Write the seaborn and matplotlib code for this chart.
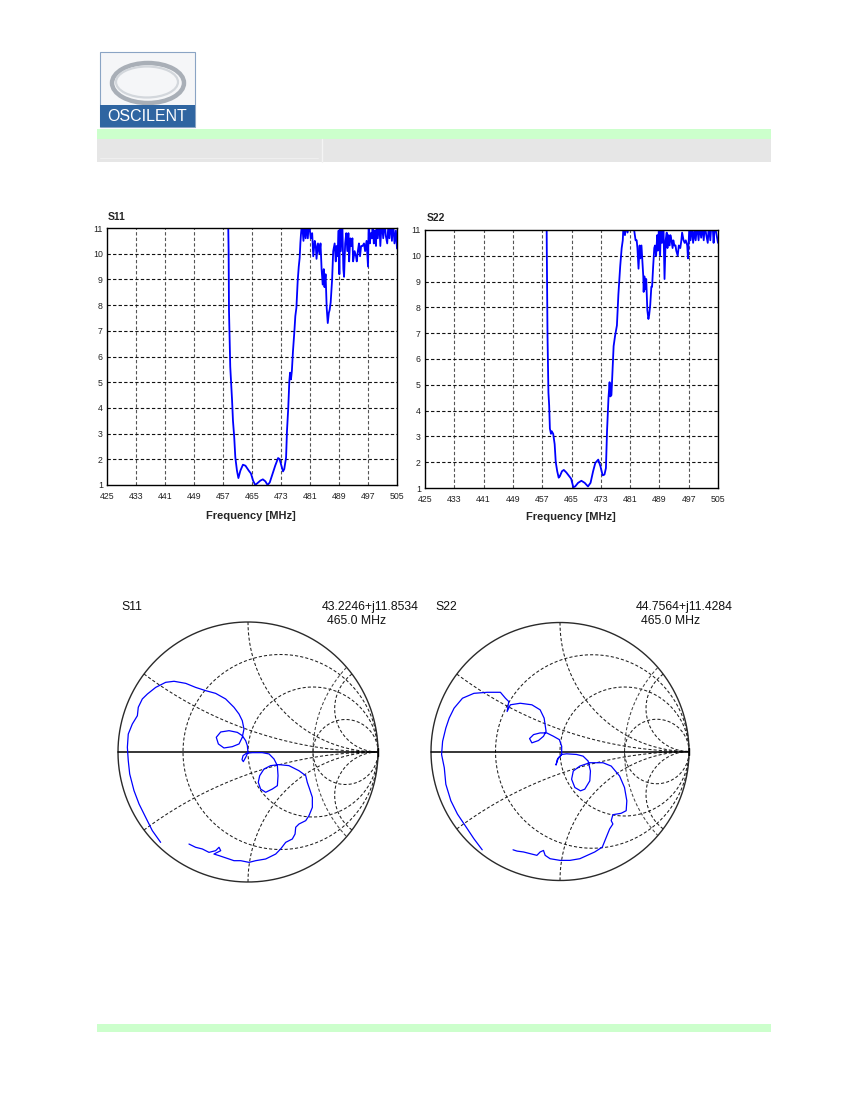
import numpy as np
import pandas as pd
import matplotlib
matplotlib.use("Agg")
import matplotlib.pyplot as plt
import seaborn as sns
from matplotlib.patches import Rectangle, Ellipse

sns.set_theme(style="white")
plt.rcParams['font.family'] = ['Liberation Sans', 'DejaVu Sans']

# ---------------- data ----------------
freq_ticks = [425, 433, 441, 449, 457, 465, 473, 481, 489, 497, 505]
vswr_ticks = [1, 2, 3, 4, 5, 6, 7, 8, 9, 10, 11]

s11_freq = [458.4, 458.55, 458.65, 459.0, 459.5, 459.75, 460.1, 460.4, 460.85, 461.25,
            461.8, 462.5, 463.2, 464.1, 464.7, 465.3, 465.9, 466.4, 467.3, 468.0,
            468.7, 469.3, 469.9, 470.5, 471.4, 472.2, 472.6, 473.1, 473.55, 473.9,
            474.4, 474.65, 475.0, 475.3, 475.5, 475.75, 476.0, 476.3, 476.7, 476.95,
            477.25, 477.6, 477.9, 478.15, 478.35, 478.5, 478.8,
            479.2, 479.5, 479.8, 480.1, 480.4, 480.7, 481.2, 481.6, 481.9, 482.3,
            482.6, 482.8, 483.2, 483.6, 483.9, 484.2, 484.5, 484.8, 485.0, 485.3,
            485.6, 485.9, 486.2, 486.4, 486.7, 487.1, 487.4, 487.8, 488.1, 488.3,
            488.6, 488.9, 489.1, 489.3, 489.5, 489.9, 490.2, 490.4, 490.7, 491.0,
            491.3, 491.6, 491.8, 492.1, 492.4, 492.7, 492.9, 493.3, 493.7, 493.9,
            494.2, 494.5, 494.8, 495.1, 495.5, 495.9, 496.2, 496.6, 497.0, 497.2,
            497.5, 497.8, 498.1, 498.3, 498.6, 498.9, 499.2, 499.4, 499.7, 500.1,
            500.4, 500.8, 501.2, 501.6, 501.9, 502.3, 502.7, 502.9, 503.2, 503.6,
            503.9, 504.3, 504.7, 505.0]
s11_vswr = [11.5, 10.1, 7.8, 5.6, 4.3, 3.5, 2.85, 2.07, 1.56, 1.27,
            1.56, 1.79, 1.75, 1.56, 1.45, 1.17, 1.0, 1.06, 1.17, 1.22,
            1.14, 1.0, 1.10, 1.36, 1.75, 2.05, 2.01, 1.75, 1.53, 1.62,
            2.07, 3.1, 4.0, 5.05, 5.37, 5.11, 5.44, 6.2, 7.0, 7.57,
            7.9, 8.93, 9.5, 9.84, 10.42, 10.74, 11.2,
            10.5, 11.3, 10.6, 11.3, 10.6, 11.3, 10.6, 10.8, 9.9, 10.5,
            10.3, 9.8, 10.4, 10.0, 10.4, 9.4, 8.8, 9.4, 8.7, 9.2,
            7.9, 7.3, 7.7, 7.8, 8.1, 9.0, 10.1, 10.4, 9.7, 10.3,
            9.9, 10.9, 9.2, 11.3, 10.1, 11.3, 9.4, 9.1, 10.4, 10.8,
            10.1, 10.8, 9.7, 10.6, 10.3, 10.6, 9.7, 10.1, 9.9, 9.7,
            10.1, 10.4, 9.9, 10.3, 10.3, 10.4, 10.1, 10.5, 9.5, 11.3,
            10.4, 10.8, 10.6, 11.3, 10.4, 10.9, 10.3, 11.3, 10.6, 11.3,
            10.3, 11.3, 10.6, 11.3, 10.7, 10.4, 11.3, 10.6, 11.3, 10.5,
            11.3, 10.4, 10.9, 10.2]

s22_freq = [458.2, 458.25, 458.45, 458.7, 458.9, 459.1, 459.4, 459.6, 460.0, 460.4,
            460.7, 461.1, 461.5, 461.8, 462.4, 462.9, 463.6, 464.4, 464.9, 465.5,
            466.0, 466.8, 467.7, 468.6, 469.5, 470.2, 470.9, 471.5, 472.3, 472.9,
            473.5, 474.0, 474.4, 474.7, 475.1, 475.4, 475.6, 475.9, 476.2, 476.5,
            476.9,
            477.4, 477.8, 478.1, 478.3, 478.7, 479.0, 479.2, 479.6, 479.9, 480.3,
            480.7, 481.2, 481.6, 482.1, 482.5, 482.8, 483.0, 483.3, 483.6, 483.8,
            484.1, 484.4, 484.6, 484.7, 484.9, 485.2, 485.4, 485.7, 486.0, 486.2,
            486.5, 486.8, 487.0, 487.3, 487.6, 487.8, 488.1, 488.4, 488.6, 488.9,
            489.2, 489.4, 489.7, 490.1, 490.4, 490.7, 491.0, 491.2, 491.5, 491.8,
            492.0, 492.3, 492.6, 492.8, 493.1, 493.4, 493.6, 494.0, 494.3, 494.7,
            495.0, 495.2, 495.6, 495.9, 496.2, 496.6, 496.8, 497.2, 497.5, 497.9,
            498.2, 498.6, 498.9, 499.3, 499.7, 500.0, 500.4, 500.7, 501.1, 501.4,
            501.8, 502.2, 502.5, 502.9, 503.2, 503.6, 503.8, 504.1, 504.5, 505.0]
s22_vswr = [11.5, 10.3, 6.9, 4.7, 4.2, 3.3, 3.1, 3.2, 3.1, 2.7,
            2.0, 1.65, 1.4, 1.45, 1.65, 1.7, 1.6, 1.45, 1.36, 1.03,
            1.06, 1.2, 1.28, 1.2, 1.06, 1.2, 1.65, 1.97, 2.1, 1.84,
            1.49, 1.52, 1.77, 3.2, 4.5, 5.1, 4.55, 4.6, 5.6, 6.5,
            6.9,
            7.3, 8.5, 9.2, 9.6, 10.3, 10.6, 11.2, 10.8, 11.2, 10.9,
            11.2, 11.0, 11.2, 11.0, 10.6, 10.6, 10.3, 9.5, 10.4, 9.9,
            10.4, 9.7, 9.2, 8.6, 9.2, 8.7, 9.1, 7.9, 7.55, 7.7,
            8.1, 8.8, 8.8, 9.6, 10.3, 10.4, 10.0, 10.8, 10.2, 11.2,
            10.0, 11.2, 10.5, 11.2, 9.1, 10.6, 10.9, 10.3, 10.8, 10.4,
            10.8, 10.6, 10.3, 10.6, 10.4, 10.4, 10.2, 10.0, 10.4, 10.3,
            10.6, 10.9, 10.6, 10.5, 10.6, 10.4, 9.9, 11.2, 10.6, 11.2,
            10.5, 11.0, 10.6, 11.2, 10.6, 11.2, 10.7, 11.2, 10.6, 11.2,
            10.8, 10.5, 11.2, 10.6, 11.2, 11.0, 10.5, 11.2, 10.9, 10.5]

# reflection coefficient traces (real / imaginary part of gamma)
s11_gamma_re = [-0.672, -0.736, -0.787, -0.838, -0.877, -0.910, -0.921, -0.928, -0.921, -0.890,
                -0.851, -0.844, -0.813, -0.774, -0.710, -0.633, -0.569, -0.479, -0.403, -0.326,
                -0.249, -0.172, -0.108, -0.069, -0.044, -0.031, -0.044, -0.069, -0.121, -0.185,
                -0.228, -0.244, -0.210, -0.146, -0.082, -0.044, -0.018, -0.005, 0.000, -0.018,
                -0.036, -0.046, -0.038, -0.013, 0.033, 0.110, 0.162, 0.200, 0.226, 0.231,
                0.226, 0.187, 0.136, 0.097, 0.079, 0.090, 0.123, 0.174, 0.238, 0.315,
                0.392, 0.444, 0.456, 0.474, 0.495, 0.495, 0.469, 0.444, 0.392, 0.367,
                0.362, 0.341, 0.290, 0.251, 0.213, 0.136, 0.059, 0.008, -0.056, -0.108,
                -0.146, -0.223, -0.262, -0.210, -0.223, -0.249, -0.300, -0.351, -0.403, -0.454]
s11_gamma_im = [-0.695, -0.605, -0.503, -0.400, -0.297, -0.169, -0.067, 0.036, 0.138, 0.215,
                0.279, 0.344, 0.408, 0.446, 0.497, 0.536, 0.544, 0.528, 0.497, 0.472,
                0.451, 0.408, 0.344, 0.292, 0.241, 0.177, 0.113, 0.062, 0.041, 0.031,
                0.062, 0.113, 0.154, 0.164, 0.151, 0.126, 0.087, 0.049, -0.003, -0.041,
                -0.074, -0.059, -0.028, -0.010, -0.005, -0.005, -0.015, -0.054, -0.105, -0.182,
                -0.259, -0.285, -0.310, -0.285, -0.233, -0.182, -0.131, -0.105, -0.097, -0.105,
                -0.144, -0.182, -0.233, -0.285, -0.349, -0.426, -0.490, -0.528, -0.554, -0.579,
                -0.631, -0.669, -0.695, -0.746, -0.785, -0.823, -0.836, -0.849, -0.836, -0.836,
                -0.823, -0.797, -0.785, -0.759, -0.733, -0.759, -0.772, -0.746, -0.733, -0.708]

s22_gamma_re = [-0.603, -0.667, -0.718, -0.795, -0.846, -0.885, -0.897, -0.918, -0.910, -0.885,
                -0.859, -0.821, -0.756, -0.667, -0.564, -0.462, -0.423, -0.397, -0.410, -0.385,
                -0.308, -0.218, -0.154, -0.123, -0.108, -0.128, -0.167, -0.218, -0.236, -0.205,
                -0.154, -0.103, -0.051, -0.005, 0.013, 0.013, -0.013, -0.031, -0.021, 0.013,
                0.051, 0.128, 0.179, 0.218, 0.236, 0.231, 0.192, 0.159, 0.115, 0.090,
                0.103, 0.154, 0.231, 0.333, 0.397, 0.462, 0.500, 0.518, 0.513, 0.474,
                0.410, 0.397, 0.410, 0.385, 0.359, 0.328, 0.269, 0.154, 0.077, 0.000,
                -0.077, -0.115, -0.128, -0.154, -0.179, -0.231, -0.282, -0.333, -0.364]
s22_gamma_im = [-0.762, -0.677, -0.600, -0.485, -0.382, -0.254, -0.126, -0.023, 0.079, 0.182,
                0.259, 0.336, 0.413, 0.451, 0.459, 0.459, 0.413, 0.387, 0.310, 0.362,
                0.374, 0.362, 0.323, 0.259, 0.156, 0.118, 0.085, 0.067, 0.100, 0.131,
                0.144, 0.144, 0.118, 0.092, 0.041, -0.023, -0.049, -0.105, -0.062, -0.023,
                -0.018, -0.023, -0.036, -0.074, -0.151, -0.228, -0.292, -0.305, -0.279, -0.215,
                -0.151, -0.113, -0.087, -0.087, -0.113, -0.190, -0.279, -0.382, -0.459, -0.479,
                -0.490, -0.536, -0.562, -0.600, -0.664, -0.741, -0.779, -0.831, -0.844, -0.844,
                -0.831, -0.805, -0.767, -0.779, -0.805, -0.792, -0.779, -0.772, -0.762]

s11_marker_text = ["43.2246+j11.8534", "465.0 MHz"]
s22_marker_text = ["44.7564+j11.4284", "465.0 MHz"]

# ---------------- figure ----------------
W, H = 850, 1100
fig = plt.figure(figsize=(W / 100, H / 100), dpi=100)
fig.patch.set_facecolor("white")

bg = fig.add_axes([0, 0, 1, 1])
bg.set_xlim(0, W)
bg.set_ylim(H, 0)
bg.axis("off")

# header: logo + bands
bg.add_patch(Rectangle((100, 52), 95, 75, facecolor="#f5f6f8", edgecolor="#8aa4c4", lw=0.8))
bg.add_patch(Ellipse((148, 83), 72, 40, fill=False, edgecolor="#a9afb7", lw=3.2))
bg.add_patch(Ellipse((147, 82), 62, 31, fill=False, edgecolor="#d3d7dc", lw=1.6))
bg.add_patch(Rectangle((100, 105), 95, 22, facecolor="#2f65a1", edgecolor="none"))
bg.text(147.5, 116.5, "OSCILENT", color="white", fontsize=11.5, ha="center", va="center")
bg.add_patch(Rectangle((97, 128.5), 674, 10.5, facecolor="#ccffcc", edgecolor="none"))
bg.add_patch(Rectangle((97, 139), 674, 23, facecolor="#e6e6e6", edgecolor="none"))
bg.plot([322.5, 322.5], [139, 162], color="#f4f4f4", lw=1.0)
bg.plot([100, 318], [158.3, 158.3], color="#f0f0f0", lw=0.7)
bg.add_patch(Rectangle((97, 1024), 674, 8, facecolor="#ccffcc", edgecolor="none"))


def px_axes(left, top, right, bottom):
    return fig.add_axes([left / W, 1 - bottom / H, (right - left) / W, (bottom - top) / H])


def vswr_panel(box, freqs, vswr, title, title_xy, xlabel_xy):
    ax = px_axes(*box)
    df = pd.DataFrame({"Frequency": freqs, "VSWR": vswr})
    sns.lineplot(data=df, x="Frequency", y="VSWR", ax=ax, sort=False, estimator=None,
                 color="#0000ff", lw=1.3)
    ax.set_xlim(425, 505)
    ax.set_ylim(1, 11)
    ax.set_xticks(freq_ticks)
    ax.set_yticks(vswr_ticks)
    ax.set_xticklabels([str(t) for t in freq_ticks])
    ax.set_yticklabels([str(t) for t in vswr_ticks])
    ax.tick_params(length=0, labelsize=6.3, colors="#222222")
    ax.tick_params(axis="x", pad=5)
    ax.tick_params(axis="y", pad=3)
    for t in freq_ticks[1:-1]:
        ax.axvline(t, color="#555555", ls=(0, (3, 2)), lw=0.8, zorder=0)
    for t in vswr_ticks[1:-1]:
        ax.axhline(t, color="#111111", ls=(0, (3, 2)), lw=0.8, zorder=0)
    ax.grid(False)
    ax.set_xlabel("")
    ax.set_ylabel("")
    for s in ax.spines.values():
        s.set_color("black")
        s.set_linewidth(1.0)
    bg.text(title_xy[0], title_xy[1], title, fontsize=7.5, fontweight="bold",
            ha="left", va="top")
    bg.text(xlabel_xy[0], xlabel_xy[1], "Frequency [MHz]", fontsize=8,
            fontweight="bold", ha="center", va="top")
    return ax


vswr_panel((107, 228, 397, 485), s11_freq, s11_vswr, "S11", (108, 212), (251, 511))
vswr_panel((425, 230, 718, 488), s22_freq, s22_vswr, "S22", (427, 213), (571, 512))


def smith_panel(cx, cy, R, g_re, g_im, label, marker_text, label_x, mark_x):
    lim = 1.03
    ax = px_axes(cx - lim * R, cy - lim * R, cx + lim * R, cy + lim * R)
    ax.set_xlim(-lim, lim)
    ax.set_ylim(-lim, lim)
    ax.axis("off")
    t = np.linspace(0, 2 * np.pi, 600)
    dash = (0, (3, 2))
    gc = "#1e1e1e"
    for r in (1 / 3, 1, 3):
        c, rad = r / (1 + r), 1 / (1 + r)
        ax.plot(c + rad * np.cos(t), rad * np.sin(t), color=gc, ls=dash, lw=0.75)
    rr = np.concatenate([[0.0], np.logspace(-3, 3.5, 600)])
    for x in (1 / 3, 1, 3, -1 / 3, -1, -3):
        z = rr + 1j * x
        g = (z - 1) / (z + 1)
        ax.plot(g.real, g.imag, color=gc, ls=dash, lw=0.75)
    # extra dashed contour on the right side of the chart
    ta = np.linspace(np.pi / 2, 3 * np.pi / 2, 600)
    ex, ey = 1.45 + 0.95 * np.cos(ta), 0.95 * np.sin(ta)
    m = ex ** 2 + ey ** 2 <= 1.0
    ax.plot(ex[m], ey[m], color="#444444", ls=dash, lw=0.75)
    ax.plot(np.cos(t), np.sin(t), color="#2a2a2a", lw=1.0)
    ax.plot([-1, 1], [0, 0], color="black", lw=1.1)
    ax.plot([1, 1], [-0.03, 0.03], color="black", lw=1.0)
    df = pd.DataFrame({"re": g_re, "im": g_im})
    sns.lineplot(data=df, x="re", y="im", ax=ax, sort=False, estimator=None,
                 color="#0000ff", lw=0.9)
    ax.set_xlabel("")
    ax.set_ylabel("")
    bg.text(label_x, 601, label, fontsize=8.8, ha="left", va="top", color="#111111")
    bg.text(mark_x, 601, marker_text[0], fontsize=8.8, ha="left", va="top", color="#111111")
    bg.text(mark_x + 5, 615, marker_text[1], fontsize=8.8, ha="left", va="top", color="#111111")
    return ax


smith_panel(248, 752, 130, s11_gamma_re, s11_gamma_im, "S11", s11_marker_text, 121, 322)
smith_panel(560, 751.5, 129, s22_gamma_re, s22_gamma_im, "S22", s22_marker_text, 435, 636)

fig.savefig("out.png", dpi=100, facecolor="white")
